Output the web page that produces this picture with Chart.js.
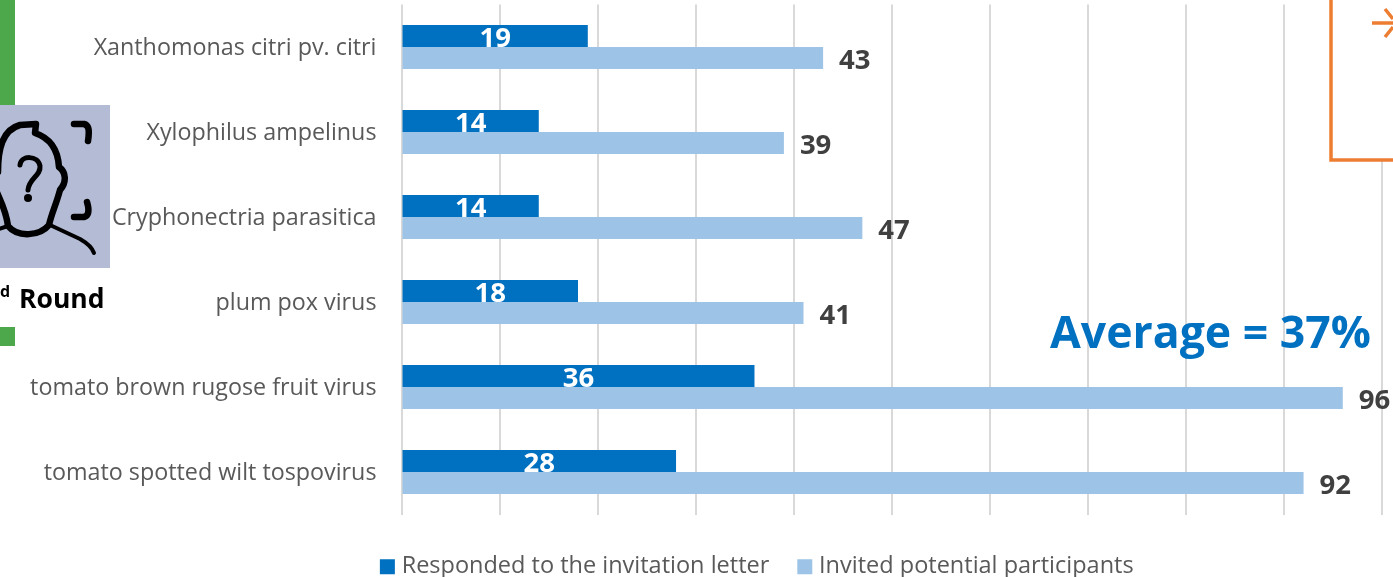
<!DOCTYPE html>
<html>
<head>
<meta charset="utf-8">
<title>Invitation responses</title>
<script src="https://cdn.jsdelivr.net/npm/chart.js@4/dist/chart.umd.min.js"></script>
<style>
    html, body { margin: 0; padding: 0; background: #fff; overflow: hidden; }
    #wrap { position: relative; width: 1393px; height: 577px; overflow: hidden; font-family: "Open Sans", sans-serif; }
    #wrap canvas { position: absolute; left: 0; top: 0; }
    .green { position: absolute; left: 0; width: 15px; background: #4CA84A; }
    .overlay { position: absolute; left: 0; top: 0; }
    #avg { position: absolute; left: 1050px; top: 300px; font-size: 44.6px; line-height: 62px; font-weight: 700; color: #0070C0; white-space: nowrap; }
    #round { position: absolute; left: 19px; top: 280px; font-size: 26.5px; line-height: 36px; font-weight: 700; color: #000; white-space: nowrap; }
    #nd { position: absolute; left: 0; top: 280px; font-size: 16px; line-height: 22px; font-weight: 700; color: #000; }
</style>
</head>
<body>
<div id="wrap">
    <canvas id="chart" width="1393" height="577"></canvas>

    <div class="green" style="top:0;height:105px"></div>
    <div class="green" style="top:327px;height:19px"></div>

    <svg class="overlay" width="1393" height="577" fill="none">
        <rect x="0" y="105" width="110" height="163" fill="#B4BBD4"/>
        <g stroke="#000" stroke-linecap="round" stroke-linejoin="round">
            <path d="M-2 172 C-2 150 2 130 20 125 L36 124 L35 133 C50 138 58 150 59 167 C66 172 67 182 60 190 C56 205 52 212 49 225 C40 236 18 238 8 226 C6 210 0 200 -4 190" stroke-width="6.5"/>
            <path d="M50 225 L80 239 C87 243 92 247 94 253" stroke-width="4"/>
            <path d="M8 226 L-4 230" stroke-width="4"/>
            <path d="M74 124 L84 124 C88 125 90 128 88 141" stroke-width="6.5"/>
            <path d="M74 217 L84 217 C88 216 90 212 87 202" stroke-width="6.5"/>
            <path d="M20 165 C21 155 38 155 40 166 C41 176 29 178 28 190" stroke-width="5"/>
        </g>
        <circle cx="28" cy="198" r="4" fill="#000"/>
        <path d="M1331 -4 V160 H1397 V-4 Z" fill="#fff" stroke="#ED7D31" stroke-width="3.5"/>
        <path d="M1372 23 H1393 M1385 9 L1393 19 M1385 37 L1393 27" stroke="#ED7D31" stroke-width="3.5"/>
    </svg>

    <div id="nd">d</div>
    <div id="round">Round</div>
    <div id="avg">Average = 37%</div>
</div>

<script>
const categories = [
    'Xanthomonas citri pv. citri',
    'Xylophilus ampelinus',
    'Cryphonectria parasitica',
    'plum pox virus',
    'tomato brown rugose fruit virus',
    'tomato spotted wilt tospovirus'
];
const responded = [19, 14, 14, 18, 36, 28];
const invited = [43, 39, 47, 41, 96, 92];

const seriesNames = ['Responded to the invitation letter', 'Invited potential participants'];
const seriesColors = ['#0070C0', '#9DC3E6'];

// Value labels: white inside the dark bars, grey past the end of the light ones
const valueLabels = {
    id: 'valueLabels',
    afterDatasetsDraw(chart) {
        const c = chart.ctx;
        c.save();
        c.font = '700 27.5px "Open Sans"';
        c.textBaseline = 'middle';

        chart.getDatasetMeta(0).data.forEach((bar, i) => {
            c.fillStyle = '#ffffff';
            c.textAlign = 'center';
            c.fillText(responded[i], (bar.x + bar.base) / 2, bar.y + 3);
        });
        chart.getDatasetMeta(1).data.forEach((bar, i) => {
            c.fillStyle = '#404040';
            c.textAlign = 'left';
            c.fillText(invited[i], bar.x + 16, bar.y + 3);
        });
        c.restore();
    }
};

// The legend sits lower and further right than the layout would put it
const moveLegend = {
    id: 'moveLegend',
    afterLayout(chart) {
        const legend = chart.legend;
        const h = legend.bottom - legend.top;
        legend.left = 136.5;
        legend.right = 1382;
        legend.top = 522;
        legend.bottom = 522 + h;
    }
};

new Chart(document.getElementById('chart'), {
    type: 'bar',
    data: {
        labels: categories,
        datasets: [
            { label: seriesNames[0], data: responded, backgroundColor: seriesColors[0] },
            { label: seriesNames[1], data: invited, backgroundColor: seriesColors[1] }
        ]
    },
    options: {
        indexAxis: 'y',
        responsive: false,
        animation: false,
        categoryPercentage: 0.52,
        barPercentage: 1,
        layout: { padding: { left: 0, right: 11, top: 4.5, bottom: -4 } },
        plugins: {
            tooltip: { enabled: false },
            legend: {
                position: 'bottom',
                labels: {
                    // small box plus a thick border, so the text sits closer to the swatch
                    boxWidth: 5,
                    boxHeight: 5,
                    padding: 33,
                    color: '#595959',
                    font: { family: '"Open Sans"', size: 23.5 },
                    generateLabels(chart) {
                        const items = Chart.defaults.plugins.legend.labels.generateLabels(chart);
                        items.forEach(item => {
                            item.lineWidth = 10;
                            item.strokeStyle = item.fillStyle;
                        });
                        return items;
                    }
                }
            }
        },
        scales: {
            x: {
                min: 0,
                max: 100,
                ticks: { display: false, stepSize: 10 },
                border: { display: false },
                grid: { color: '#D9D9D9', lineWidth: 2, drawTicks: false }
            },
            y: {
                grid: { display: false, drawTicks: false },
                border: { display: false },
                ticks: {
                    padding: 25,
                    labelOffset: 1,
                    color: '#595959',
                    font: { family: '"Open Sans"', size: 23.3 }
                },
                afterFit(scale) {
                    scale.width = 401.5;
                    scale.paddingTop = 0;
                    scale.paddingBottom = 0;
                }
            }
        }
    },
    plugins: [valueLabels, moveLegend]
});
</script>
</body>
</html>
